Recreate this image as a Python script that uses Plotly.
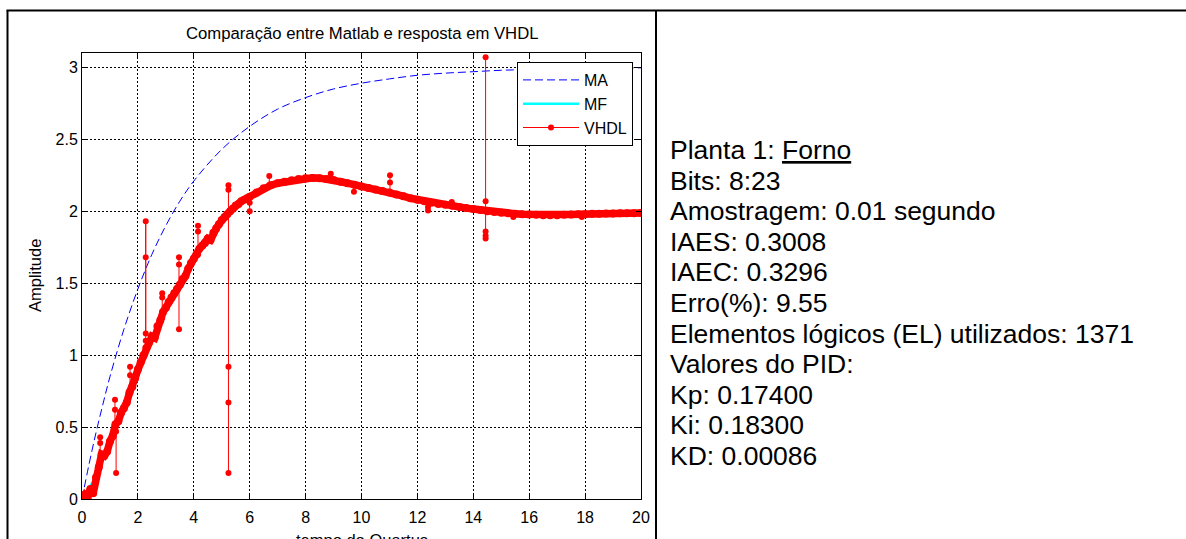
import plotly.graph_objects as go

# ---- Open-loop response (MA) ----
ma_t = [0, 0.25, 0.5, 0.75, 1, 1.5, 2, 2.5, 3, 3.5, 4, 5, 6, 7, 8, 9, 10,
        11, 12, 13, 14, 15, 16, 17, 18, 19, 20]
ma_y = [0.0, 0.24, 0.46, 0.66, 0.85, 1.18, 1.46, 1.70, 1.90, 2.07, 2.21, 2.43,
        2.59, 2.71, 2.79, 2.85, 2.89, 2.92, 2.945, 2.96, 2.97, 2.98, 2.985,
        2.99, 2.992, 2.995, 2.997]

# ---- Closed-loop response (MF) ----
mf_t = [0, 0.5, 1, 1.5, 2, 2.5, 3, 3.5, 4, 4.5, 5, 5.5, 6, 7, 8, 9, 10, 11,
        12, 13, 14, 15, 16, 17, 18, 19, 20]
mf_y = [0.0, 0.16, 0.40, 0.60, 0.88, 1.12, 1.32, 1.49, 1.66, 1.8, 1.93, 2.03,
        2.1, 2.19, 2.23, 2.215, 2.17, 2.125, 2.08, 2.045, 2.015, 1.995, 1.982,
        1.977, 1.98, 1.984, 1.987]

# ---- VHDL output (main samples) ----
vhdl_t = [0.0, 0.1, 0.2, 0.3, 0.4, 0.5, 0.6, 0.7, 0.8, 0.9,
          1.0, 1.1, 1.2, 1.3, 1.4, 1.5, 1.6, 1.7, 1.8, 1.9,
          2.0, 2.1, 2.2, 2.3, 2.4, 2.5, 2.6, 2.7, 2.8, 2.9,
          3.0, 3.1, 3.2, 3.3, 3.4, 3.5, 3.6, 3.7, 3.8, 3.9,
          4.0, 4.1, 4.2, 4.3, 4.4, 4.5, 4.6, 4.7, 4.8, 4.9,
          5.0, 5.1, 5.2, 5.3, 5.4, 5.5, 5.6, 5.7, 5.8, 5.9,
          6.0, 6.25, 6.5, 6.75, 7.0, 7.25, 7.5, 7.75, 8.0, 8.25,
          8.5, 8.75, 9.0, 9.25, 9.5, 9.75, 10.0, 10.25, 10.5, 10.75,
          11.0, 11.25, 11.5, 11.75, 12.0, 12.25, 12.5, 12.75, 13.0, 13.25,
          13.5, 13.75, 14.0, 14.25, 14.5, 14.75, 15.0, 15.25, 15.5, 15.75,
          16.0, 16.25, 16.5, 16.75, 17.0, 17.25, 17.5, 17.75, 18.0, 18.25,
          18.5, 18.75, 19.0, 19.25, 19.5, 19.75, 20.0]
vhdl_y = [0.00, 0.03, 0.01, 0.07, 0.04, 0.15, 0.22, 0.31, 0.30, 0.33,
          0.40, 0.44, 0.52, 0.54, 0.60, 0.63, 0.67, 0.74, 0.78, 0.84,
          0.90, 0.95, 1.00, 1.05, 1.09, 1.13, 1.12, 1.20, 1.24, 1.30,
          1.33, 1.37, 1.40, 1.43, 1.46, 1.49, 1.53, 1.55, 1.60, 1.64,
          1.67, 1.70, 1.74, 1.76, 1.78, 1.81, 1.80, 1.85, 1.88, 1.91,
          1.94, 1.96, 1.98, 2.00, 2.02, 2.04, 2.05, 2.07, 2.08, 2.09,
          2.10, 2.13, 2.16, 2.18, 2.195, 2.205, 2.215, 2.225, 2.23, 2.232,
          2.23, 2.225, 2.218, 2.205, 2.195, 2.185, 2.172, 2.162, 2.152, 2.14,
          2.13, 2.117, 2.105, 2.09, 2.08, 2.07, 2.06, 2.05, 2.045, 2.038,
          2.03, 2.022, 2.015, 2.008, 2.0, 1.995, 1.99, 1.986, 1.983, 1.98,
          1.978, 1.975, 1.973, 1.972, 1.973, 1.975, 1.977, 1.979, 1.98, 1.982,
          1.983, 1.984, 1.985, 1.986, 1.986, 1.987, 1.988]

# ---- VHDL glitch samples: time and the values read at that instant ----
glitch_t = [0.65, 1.22, 1.18, 1.72, 2.28, 2.87, 3.47, 4.15, 5.24, 6.0, 6.7,
            8.9, 9.73, 11.02, 12.38, 13.23, 14.44, 15.43, 17.88]
glitch_y = [[0.27, 0.39, 0.43],
            [0.47, 0.18],
            [0.52, 0.62, 0.69],
            [0.75, 0.86, 0.92],
            [1.10, 1.93, 1.68, 1.15],
            [1.26, 1.40, 1.43],
            [1.68, 1.63, 1.18],
            [1.70, 1.86, 1.90],
            [2.18, 2.15, 0.92, 0.67, 0.18],
            [2.10, 2.06, 2.00],
            [2.18, 2.245],
            [2.225, 2.26],
            [2.185, 2.135],
            [2.13, 2.20, 2.25],
            [2.07, 2.03, 2.005],
            [2.04, 2.065],
            [3.07, 2.07, 1.86, 1.83, 1.81],
            [1.985, 1.96],
            [1.98, 1.96]]

x_ticks = [0, 2, 4, 6, 8, 10, 12, 14, 16, 18, 20]
y_ticks = [0, 0.5, 1, 1.5, 2, 2.5, 3]
y_tick_labels = ["0", "0.5", "1", "1.5", "2", "2.5", "3"]

title_text = "Comparação entre Matlab e resposta em VHDL"
x_label = "tempo do Quartus"
y_label = "Amplitude"
info_lines = ["Planta 1: <u>Forno</u>",
              "Bits: 8:23",
              "Amostragem: 0.01 segundo",
              "IAES: 0.3008",
              "IAEC: 0.3296",
              "Erro(%): 9.55",
              "Elementos lógicos (EL) utilizados: 1371",
              "Valores do PID:",
              "Kp: 0.17400",
              "Ki: 0.18300",
              "KD: 0.00086"]

# ---- page geometry (pixels) ----
W, H = 1186, 539
AX_L, AX_R, AX_T, AX_B = 82, 641, 53, 499
FONT = "Arial, 'Liberation Sans', sans-serif"


def fx(p):
    return (p - AX_L) / (AX_R - AX_L)


def fy(p):
    return (AX_B - p) / (AX_B - AX_T)


# glitch segments joined into one polyline with gaps
gx, gy = [], []
for t, vals in zip(glitch_t, glitch_y):
    gx += [t] * len(vals) + [None]
    gy += vals + [None]

fig = go.Figure()
fig.add_trace(go.Scatter(x=ma_t, y=ma_y, name="MA", mode="lines",
                         line=dict(color="#0000ff", width=1, dash="8px,4px",
                                   shape="spline")))
fig.add_trace(go.Scatter(x=mf_t, y=mf_y, name="MF", mode="lines",
                         line=dict(color="#00ffff", width=2.5, shape="spline")))
fig.add_trace(go.Scatter(x=vhdl_t, y=vhdl_y, mode="lines+markers",
                         showlegend=False, legendgroup="vhdl",
                         line=dict(color="#ff0000", width=7.5),
                         marker=dict(color="#ff0000", size=8)))
fig.add_trace(go.Scatter(x=gx, y=gy, name="VHDL", mode="lines+markers",
                         legendgroup="vhdl", connectgaps=False,
                         line=dict(color="#ff0000", width=1),
                         marker=dict(color="#ff0000", size=6)))

axis_common = dict(showline=True, linecolor="black", linewidth=1,
                   mirror="allticks", ticks="inside", ticklen=5,
                   tickcolor="black", showgrid=True, gridcolor="black",
                   gridwidth=1, griddash="2px,2px", zeroline=False,
                   tickfont=dict(family=FONT, size=16, color="black"))

fig.update_xaxes(range=[0, 20], tickvals=x_ticks, ticklabelstandoff=4,
                 **axis_common)
fig.update_yaxes(range=[0, 3.1], tickvals=y_ticks, ticktext=y_tick_labels,
                 **axis_common)

annotations = [
    dict(text=title_text, x=0.5, y=fy(33), xref="paper", yref="paper",
         xanchor="center", yanchor="middle", showarrow=False,
         font=dict(family=FONT, size=16.7, color="black")),
    dict(text=y_label, x=fx(35), y=0.5, xref="paper", yref="paper",
         xanchor="center", yanchor="middle", textangle=-90, showarrow=False,
         font=dict(family=FONT, size=16.5, color="black")),
    dict(text=x_label, x=0.5, y=fy(540), xref="paper", yref="paper",
         xanchor="center", yanchor="middle", showarrow=False,
         font=dict(family=FONT, size=16.5, color="black")),
]
for i, line in enumerate(info_lines):
    annotations.append(dict(text=line, x=fx(668), y=fy(150 + 30.6 * i),
                            xref="paper", yref="paper", xanchor="left",
                            yanchor="middle", showarrow=False,
                            font=dict(family=FONT, size=26.5, color="black")))

border = dict(color="black", width=2)
shapes = [
    dict(type="line", xref="paper", yref="paper", x0=fx(6.5), x1=fx(1186),
         y0=fy(10.5), y1=fy(10.5), line=border),
    dict(type="line", xref="paper", yref="paper", x0=fx(7.5), x1=fx(7.5),
         y0=fy(10.5), y1=fy(560), line=border),
    dict(type="line", xref="paper", yref="paper", x0=fx(656), x1=fx(656),
         y0=fy(10.5), y1=fy(560), line=border),
]

fig.update_layout(
    width=W, height=H,
    margin=dict(l=AX_L, r=W - AX_R, t=AX_T, b=H - AX_B, autoexpand=False),
    paper_bgcolor="white", plot_bgcolor="white",
    font=dict(family=FONT, size=16, color="black"),
    showlegend=True,
    legend=dict(x=fx(633), y=fy(62), xanchor="right", yanchor="top",
                bgcolor="white", bordercolor="black", borderwidth=1,
                font=dict(family=FONT, size=16, color="black"),
                itemwidth=56, tracegroupgap=0),
    annotations=annotations,
    shapes=shapes,
)

fig.write_html("out.html")
